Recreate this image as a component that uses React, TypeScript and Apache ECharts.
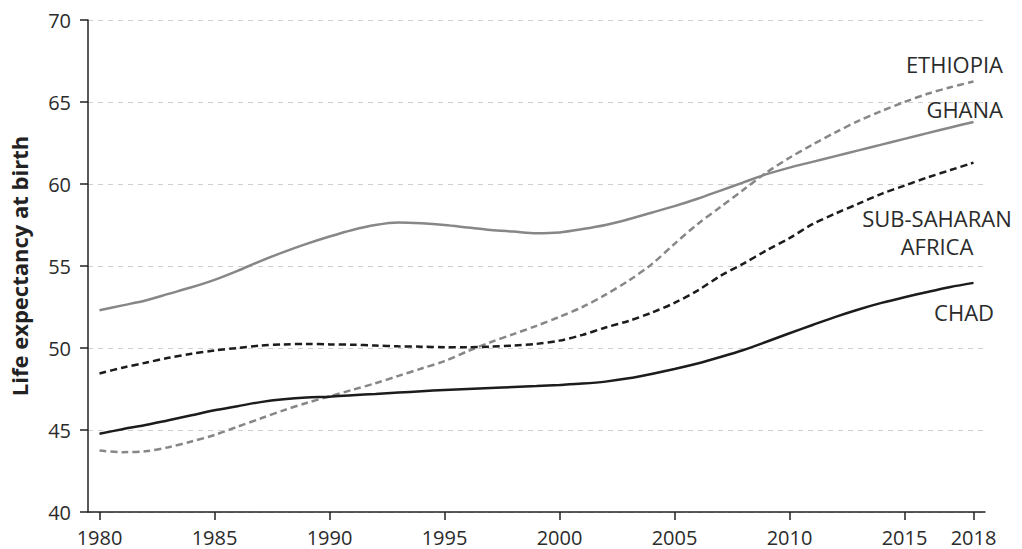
import React, { useEffect, useRef } from "react";
import * as echarts from "echarts";

const years = [
  1980, 1981, 1982, 1983, 1984, 1985, 1986, 1987, 1988, 1989,
  1990, 1991, 1992, 1993, 1994, 1995, 1996, 1997, 1998, 1999,
  2000, 2001, 2002, 2003, 2004, 2005, 2006, 2007, 2008, 2009,
  2010, 2011, 2012, 2013, 2014, 2015, 2016, 2017, 2018,
];

const ghana = [
  52.3, 52.6, 52.9, 53.3, 53.7, 54.15, 54.7, 55.3, 55.85, 56.35,
  56.8, 57.2, 57.5, 57.65, 57.6, 57.5, 57.35, 57.2, 57.1, 57.0,
  57.05, 57.25, 57.5, 57.85, 58.25, 58.65, 59.1, 59.6, 60.1, 60.6,
  61.0, 61.35, 61.7, 62.05, 62.4, 62.75, 63.1, 63.45, 63.78,
];

const ethiopia = [
  43.75, 43.65, 43.7, 43.95, 44.3, 44.7, 45.2, 45.7, 46.2, 46.65,
  47.05, 47.45, 47.85, 48.3, 48.75, 49.2, 49.8, 50.35, 50.85, 51.35,
  51.9, 52.5, 53.25, 54.1, 55.1, 56.35, 57.55, 58.6, 59.65, 60.7,
  61.6, 62.4, 63.15, 63.85, 64.45, 65.0, 65.5, 65.9, 66.25,
];

const subSaharanAfrica = [
  48.45, 48.8, 49.1, 49.4, 49.65, 49.85, 50.0, 50.15, 50.22, 50.25,
  50.22, 50.2, 50.15, 50.1, 50.08, 50.05, 50.05, 50.08, 50.15, 50.25,
  50.45, 50.8, 51.25, 51.65, 52.15, 52.75, 53.5, 54.4, 55.15, 55.95,
  56.7, 57.55, 58.2, 58.8, 59.4, 59.9, 60.4, 60.85, 61.3,
];

const chad = [
  44.77, 45.05, 45.3, 45.6, 45.9, 46.2, 46.45, 46.7, 46.87, 46.98,
  47.03, 47.12, 47.2, 47.28, 47.36, 47.44, 47.5, 47.56, 47.62, 47.68,
  47.75, 47.83, 47.95, 48.15, 48.42, 48.72, 49.05, 49.45, 49.88, 50.38,
  50.9, 51.4, 51.9, 52.35, 52.75, 53.1, 53.42, 53.72, 53.97,
];

const xTickYears = [1980, 1985, 1990, 1995, 2000, 2005, 2010, 2015, 2018];
const yMin = 40;
const yMax = 70;
const yStep = 5;

const yAxisTitle = "Life expectancy at birth";

const pair = (vals: number[]) => years.map((y, i) => [y, vals[i]]);

const FONT = "Open Sans";
const DARK = "#1c1c1c";
const GREY = "#878787";
const TEXT = "#2b2b2b";

export default function App() {
  const ref = useRef<HTMLDivElement>(null);

  useEffect(() => {
    if (!ref.current) return;
    const chart = echarts.init(ref.current, undefined, { renderer: "svg" });
    const lineBase = { type: "line", smooth: 0.3, symbol: "none", z: 3 };
    const labelStyle = { fontSize: 22, fontFamily: FONT, fill: TEXT };
    chart.setOption({
      animation: false,
      backgroundColor: "#ffffff",
      grid: { left: 87, right: 37, top: 20, bottom: 37, containLabel: false },
      xAxis: {
        type: "value",
        min: 1979.5,
        max: 2018.5,
        splitLine: { show: false },
        axisLine: { show: true, onZero: false, lineStyle: { color: "#222", width: 1.5 } },
        axisTick: {
          show: true,
          customValues: xTickYears,
          length: 8,
          lineStyle: { color: "#222", width: 1.5 },
        },
        axisLabel: {
          customValues: xTickYears,
          formatter: (v: number) => String(v),
          margin: 15,
          fontSize: 20,
          fontFamily: FONT,
          color: TEXT,
        },
      },
      yAxis: {
        type: "value",
        min: yMin,
        max: yMax,
        interval: yStep,
        name: yAxisTitle,
        nameLocation: "middle",
        nameGap: 58,
        nameTextStyle: {
          fontSize: 22,
          fontWeight: "bold",
          fontFamily: FONT,
          color: "#222",
        },
        axisLine: { show: true, lineStyle: { color: "#222", width: 1.5 } },
        axisTick: { show: true, length: 8, lineStyle: { color: "#222", width: 1.5 } },
        axisLabel: {
          margin: 17,
          fontSize: 20,
          fontFamily: FONT,
          color: TEXT,
        },
        splitLine: {
          show: true,
          lineStyle: { color: "#cfcfcf", width: 1, type: [5, 5] },
        },
      },
      series: [
        {
          ...lineBase,
          name: "Ghana",
          data: pair(ghana),
          lineStyle: { color: GREY, width: 2.5, type: "solid" },
        },
        {
          ...lineBase,
          name: "Ethiopia",
          data: pair(ethiopia),
          lineStyle: { color: GREY, width: 2.5, type: [7, 4] },
        },
        {
          ...lineBase,
          name: "Sub-Saharan Africa",
          data: pair(subSaharanAfrica),
          lineStyle: { color: DARK, width: 2.5, type: [7, 4] },
        },
        {
          ...lineBase,
          name: "Chad",
          data: pair(chad),
          lineStyle: { color: DARK, width: 2.5, type: "solid" },
        },
      ],
      graphic: [
        {
          type: "text",
          z: 10,
          x: 1003,
          y: 64,
          style: { ...labelStyle, text: "ETHIOPIA", align: "right", verticalAlign: "middle" },
        },
        {
          type: "text",
          z: 10,
          x: 1003,
          y: 109,
          style: { ...labelStyle, text: "GHANA", align: "right", verticalAlign: "middle" },
        },
        {
          type: "text",
          z: 10,
          x: 937,
          y: 218,
          style: { ...labelStyle, text: "SUB-SAHARAN", align: "center", verticalAlign: "middle" },
        },
        {
          type: "text",
          z: 10,
          x: 937,
          y: 246,
          style: { ...labelStyle, text: "AFRICA", align: "center", verticalAlign: "middle" },
        },
        {
          type: "text",
          z: 10,
          x: 994,
          y: 312,
          style: { ...labelStyle, text: "CHAD", align: "right", verticalAlign: "middle" },
        },
      ],
    });
    return () => chart.dispose();
  }, []);

  return (
    <div
      ref={ref}
      style={{ position: "fixed", left: 0, top: 0, width: 1022, height: 549, background: "#fff" }}
    />
  );
}
